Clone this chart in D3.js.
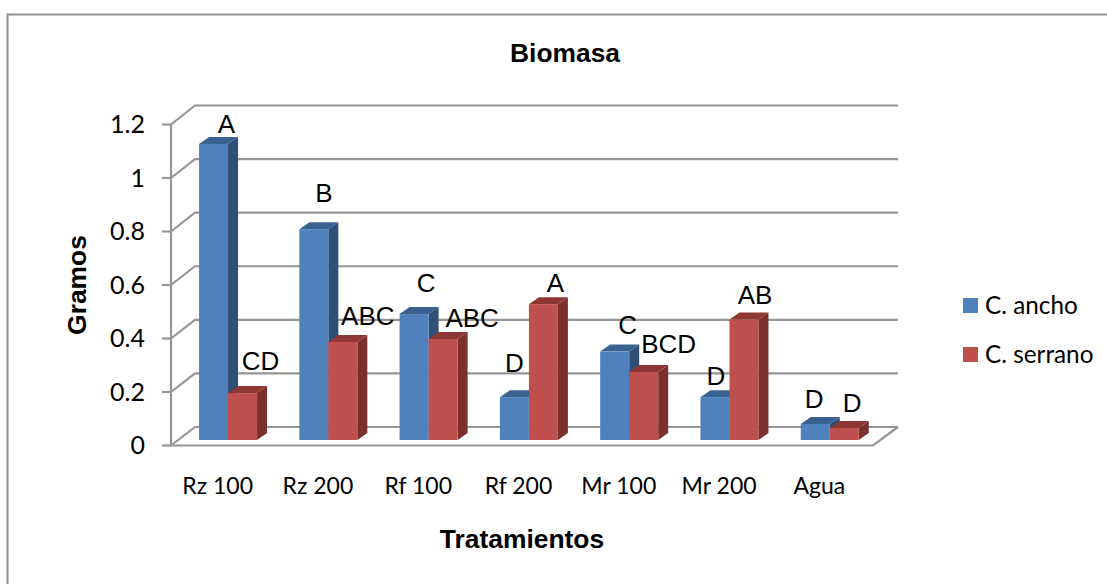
<!DOCTYPE html>
<html><head><meta charset="utf-8">
<script src="https://cdn.jsdelivr.net/npm/d3@7"></script>
<style>html,body{margin:0;padding:0;background:#fff}svg{display:block}</style>
</head><body><div id="c"></div>
<script>
const categories = ["Rz 100","Rz 200","Rf 100","Rf 200","Mr 100","Mr 200","Agua"];
const seriesNames = ["C. ancho","C. serrano"];
const ancho = [1.105,0.787,0.47,0.16,0.33,0.16,0.06];
const serrano = [0.175,0.366,0.377,0.507,0.254,0.45,0.045];
const anchoLetters = ["A","B","C","D","C","D","D"];
const serranoLetters = ["CD","ABC","ABC","A","BCD","AB","D"];
const anchoDx = [0,-3,-1,-13,0,-12,-14];
const anchoDy = [-1,-17,-12,-15,-8,-2,-6];
const serranoDx = [8,15,19,2,15,1,-2];
const serranoDy = [-11,-5,0,0,-7,-3,-4];
const ticks = [0,0.2,0.4,0.6,0.8,1,1.2];
const colors = {blue:["#4f81bd","#3a6290","#2f4f77"],red:["#c0504d","#8e3735","#7c302e"]};
const W=1107,H=584;
const svg=d3.select("#c").append("svg").attr("width",W).attr("height",H);
const grey="#969696";
const sans="'Liberation Sans',Arial,sans-serif", cal="Lato,'Open Sans',sans-serif";

// frame (open on the right and bottom, cropped by the picture)
svg.append("path").attr("d",`M7.5,${H} V14.5 H${W}`).attr("fill","none").attr("stroke","#8f8f8f").attr("stroke-width",2);

const yFront=d3.scaleLinear().domain([0,1.2]).range([445.5,124.5]);
const yBack=d3.scaleLinear().domain([0,1.2]).range([427,105.5]);
const yBar=d3.scaleLinear().domain([0,1.2]).range([440,118.5]);
const x0=d3.scaleBand().domain(categories).range([171,873]);
const groupW=x0.bandwidth();
const barW=29;
const dX=10,dY=7;
const backL=195,backR=898,frontL=171,frontR=873;

const g=svg.append("g").attr("fill","none").attr("stroke",grey).attr("stroke-width",2.2);
ticks.forEach(t=>{
  g.append("path").attr("d",`M${frontL},${yFront(t)} L${backL},${yBack(t)} H${backR}`);
  g.append("path").attr("d",`M${frontL-9},${yFront(t)} H${frontL}`);
});
g.append("path").attr("d",`M${frontL},${yFront(1.2)} V${yFront(0)} H${frontR} L${backR},${yBack(0)}`);

const barLeft=cat=>x0(cat)+groupW/2-barW+6.9;
function bar(xl,v,c){
  const y=yBar(v),b=yBar(0);
  const p=svg.append("g");
  p.append("path").attr("fill",c[2]).attr("d",`M${xl+barW},${y} l${dX},${-dY} V${b-dY} L${xl+barW},${b} Z`);
  p.append("path").attr("fill",c[1]).attr("d",`M${xl},${y} l${dX},${-dY} h${barW} l${-dX},${dY} Z`);
  p.append("rect").attr("x",xl).attr("y",y).attr("width",barW).attr("height",b-y).attr("fill",c[0]);
}
categories.forEach((cat,i)=>{
  const xl=barLeft(cat);
  bar(xl,ancho[i],colors.blue);
  bar(xl+barW,serrano[i],colors.red);
});
const lab=(x,y,s)=>svg.append("text").attr("x",x).attr("y",y).attr("text-anchor","middle")
  .attr("font-family",sans).attr("font-size",26).attr("fill","#000").text(s);
categories.forEach((cat,i)=>{
  const xl=barLeft(cat);
  lab(xl+barW/2+13+anchoDx[i],yBar(ancho[i])-10+anchoDy[i],anchoLetters[i]);
  lab(xl+barW*1.5+10+serranoDx[i],yBar(serrano[i])-12+serranoDy[i],serranoLetters[i]);
});
// axis text
ticks.forEach(t=>svg.append("text").attr("x",145).attr("y",yFront(t)+8.5).attr("text-anchor","end")
  .attr("font-family",cal).attr("font-size",25).attr("fill","#000").text(t));
categories.forEach(cat=>svg.append("text").attr("x",x0(cat)+groupW/2-3.5).attr("y",494).attr("text-anchor","middle")
  .attr("font-family",cal).attr("font-size",23).attr("fill","#000").text(cat));
const title=(s)=>svg.append("text").attr("text-anchor","middle").attr("font-family",sans)
  .attr("font-size",26.4).attr("font-weight","bold").attr("fill","#000").text(s);
title("Biomasa").attr("x",565).attr("y",62);
title("Tratamientos").attr("x",522).attr("y",548);
title("Gramos").attr("transform","translate(86,285) rotate(-90)");
// legend
seriesNames.forEach((n,i)=>{
  const y=305+i*49;
  svg.append("rect").attr("x",963).attr("y",y-7).attr("width",15).attr("height",15).attr("fill",i?colors.red[0]:colors.blue[0]);
  svg.append("text").attr("x",985).attr("y",y+8.5).attr("font-family",cal).attr("font-size",24.3).attr("fill","#000").text(n);
});
</script></body></html>
